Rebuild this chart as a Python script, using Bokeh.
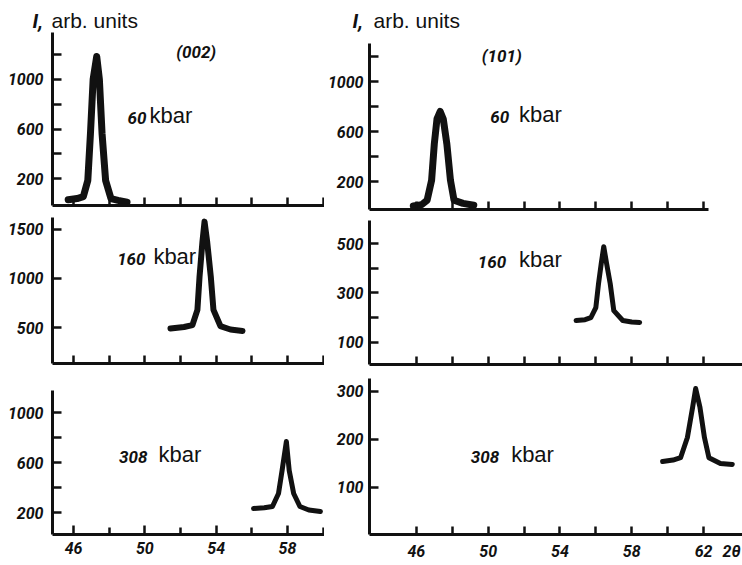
from bokeh.plotting import figure
from bokeh.layouts import column, row
from bokeh.models import FixedTicker, Label, Range1d
from bokeh.embed import file_html
from bokeh.resources import INLINE

# ---------------- data ----------------
# (002) reflection
tth_002_60 = [45.7, 46.2, 46.55, 46.8, 46.95, 47.1, 47.3, 47.45, 47.6, 47.8, 48.1, 48.5, 49.0]
int_002_60 = [30, 40, 55, 185, 565, 1000, 1185, 1000, 565, 185, 40, 25, 10]

tth_002_160 = [51.44, 52.2, 52.67, 52.95, 53.07, 53.23, 53.35, 53.5, 53.7, 53.85, 54.24, 54.8, 55.48]
int_002_160 = [490, 505, 525, 680, 1020, 1370, 1580, 1370, 1020, 680, 515, 480, 465]

tth_002_308 = [56.1, 56.7, 57.16, 57.5, 57.7, 57.94, 58.1, 58.35, 58.7, 59.2, 59.85]
int_002_308 = [232, 238, 248, 352, 536, 768, 536, 352, 248, 220, 208]

# (101) reflection
tth_101_60 = [45.83, 46.3, 46.6, 46.85, 47.0, 47.15, 47.33, 47.5, 47.7, 47.9, 48.1, 48.6, 49.2]
int_101_60 = [5, 15, 50, 210, 500, 700, 760, 700, 500, 210, 50, 25, 10]

tth_101_160 = [54.9, 55.4, 55.72, 56.0, 56.15, 56.3, 56.44, 56.6, 56.8, 57.0, 57.5, 58.0, 58.44]
int_101_160 = [189, 192, 200, 241, 338, 419, 487, 419, 338, 229, 189, 183, 181]

tth_101_308 = [59.72, 60.3, 60.72, 61.1, 61.39, 61.56, 61.8, 62.05, 62.3, 62.94, 63.6]
int_101_308 = [154, 157, 162, 204, 267, 306, 267, 204, 162, 150, 148]

# ticks
x_major = [46, 50, 54, 58, 62]
x_minor = [48, 52, 56, 60]
x_all = [46, 48, 50, 52, 54, 56, 58, 60, 62]
x_title_pos = 63.56
y_tl_major, y_tl_minor = [200, 600, 1000], [400, 800, 1200]
y_ml_major, y_ml_minor = [500, 1000, 1500], []
y_bl_major, y_bl_minor = [200, 600, 1000], [400, 800]
y_tr_major, y_tr_minor = [200, 600, 1000], [400, 800, 1200]
y_mr_major, y_mr_minor = [100, 300, 500], [200, 400]
y_br_major, y_br_minor = [100, 200, 300], []

# text
pressures = ["60", "160", "308"]
unit_text = "kbar"
reflections = ["(002)", "(101)"]
ylabel_sym = "I,"
ylabel_txt = "arb. units"
xlabel_txt = "2θ"

# ---------------- styling ----------------
BOLD_FONT = "Roboto"
REG_FONT = "Liberation Sans"
INK = "#111111"

LEFT_W, RIGHT_W = 324, 418
LEFT_X = (44.82, 60.08)
RIGHT_X = (43.39, 64.17)


def style_common(p):
    p.grid.visible = False
    p.outline_line_color = None
    p.background_fill_color = "white"
    p.border_fill_color = "white"


def panel(width, height, xr, yr, bl, bt, bb, ymaj, ymin, xmode, ystandoff, yfont, xbounds=None):
    p = figure(width=width, height=height, x_range=Range1d(*xr), y_range=Range1d(*yr),
               output_backend="svg", toolbar_location=None,
               min_border_left=bl, min_border_right=0,
               min_border_top=bt, min_border_bottom=bb)
    style_common(p)

    xa = p.xaxis[0]
    xa.axis_line_width = 3
    xa.axis_line_color = INK
    xa.major_tick_line_width = 2.5
    xa.minor_tick_line_width = 2.5
    xa.major_tick_line_color = INK
    xa.minor_tick_line_color = INK
    xa.major_tick_out = 0
    xa.minor_tick_out = 0
    xa.major_label_text_font = BOLD_FONT
    xa.major_label_text_font_style = "bold italic"
    xa.major_label_text_font_size = "16px"
    xa.major_label_text_color = INK
    if xbounds is not None:
        xa.bounds = xbounds
    if xmode == "none":
        xa.ticker = FixedTicker(ticks=[], minor_ticks=x_all)
        xa.minor_tick_in = 8
        xa.major_label_standoff = 0
    elif xmode == "labels":
        xa.ticker = FixedTicker(ticks=x_major, minor_ticks=x_minor)
        xa.major_tick_in = 9
        xa.minor_tick_in = 7
        xa.major_label_standoff = 7
    else:  # tick labels plus the 2θ title at the end of the axis
        xa.ticker = FixedTicker(ticks=x_major + [x_title_pos], minor_ticks=x_all)
        xa.major_tick_in = 0
        xa.minor_tick_in = 8
        xa.major_label_standoff = 7
        xa.major_label_overrides = {x_title_pos: xlabel_txt}

    ya = p.yaxis[0]
    ya.ticker = FixedTicker(ticks=ymaj, minor_ticks=ymin)
    ya.axis_line_width = 3
    ya.axis_line_color = INK
    ya.major_tick_line_width = 2.5
    ya.minor_tick_line_width = 2.5
    ya.major_tick_line_color = INK
    ya.minor_tick_line_color = INK
    ya.major_tick_in = 9
    ya.major_tick_out = 0
    ya.minor_tick_in = 9
    ya.minor_tick_out = 0
    ya.major_label_text_font = BOLD_FONT
    ya.major_label_text_font_style = "bold italic"
    ya.major_label_text_font_size = yfont
    ya.major_label_text_color = INK
    ya.major_label_standoff = ystandoff
    return p


def curve(p, xs, ys, lw):
    p.line(xs, ys, line_width=lw, line_color=INK, line_join="round", line_cap="round")


def bold_label(p, x, y, text, size, align="left"):
    p.add_layout(Label(x=x, y=y, text=text, text_font=BOLD_FONT, text_font_style="bold italic",
                       text_font_size=size, text_color=INK, text_baseline="middle",
                       text_align=align))


def reg_label(p, x, y, text, size):
    p.add_layout(Label(x=x, y=y, text=text, text_font=REG_FONT, text_font_size=size,
                       text_color=INK, text_baseline="middle", text_align="left"))


def pressure_label(p, x_num_right, y_num, x_unit, y_unit, text):
    bold_label(p, x_num_right, y_num, text, "17px", align="right")
    reg_label(p, x_unit, y_unit, unit_text, "22px")


# ---------------- header strip with the intensity labels ----------------
head = figure(width=LEFT_W + RIGHT_W, height=32, x_range=Range1d(0, LEFT_W + RIGHT_W),
              y_range=Range1d(32, 0), output_backend="svg", toolbar_location=None,
              x_axis_location=None, y_axis_location=None, min_border=0)
style_common(head)
bold_label(head, 32, 20.5, ylabel_sym, "20px")
reg_label(head, 51, 20.0, ylabel_txt, "21px")
bold_label(head, 352, 20.8, ylabel_sym, "20px")
reg_label(head, 373, 20.3, ylabel_txt, "21px")

# ---------------- left column: (002) ----------------
tl = panel(LEFT_W, 181, LEFT_X, (-16, 1378), 52, 0, 8, y_tl_major, y_tl_minor, "none", 9, "16px")
curve(tl, tth_002_60, int_002_60, 7)
bold_label(tl, 52.88, 1217, reflections[0], "17px", align="center")
pressure_label(tl, 50.09, 687, 50.26, 706, pressures[0])

ml = panel(LEFT_W, 159, LEFT_X, (133, 1622), 52, 4, 9, y_ml_major, y_ml_minor, "none", 9, "16px")
curve(ml, tth_002_160, int_002_160, 6)
pressure_label(ml, 50.04, 1196, 50.48, 1220, pressures[1])

bl = panel(LEFT_W, 193, LEFT_X, (24, 1176), 52, 18, 31, y_bl_major, y_bl_minor, "labels", 9, "16px")
curve(bl, tth_002_308, int_002_308, 5)
pressure_label(bl, 50.15, 642, 50.77, 661, pressures[2])

# ---------------- right column: (101) ----------------
tr = panel(RIGHT_W, 181, RIGHT_X, (-24, 1304), 44, 11, 4, y_tr_major, y_tr_minor, "none", 6, "16px",
           xbounds=(43.39, 62.3))
curve(tr, tth_101_60, int_101_60, 7)
bold_label(tr, 50.76, 1208, reflections[1], "17px", align="center")
pressure_label(tr, 51.17, 714, 51.72, 733, pressures[0])

mr = panel(RIGHT_W, 159, RIGHT_X, (11, 593), 44, 7, 8, y_mr_major, y_mr_minor, "none", 6, "16px")
curve(mr, tth_101_160, int_101_160, 5)
pressure_label(mr, 51.0, 424, 51.72, 434, pressures[1])

br = panel(RIGHT_W, 193, RIGHT_X, (2, 327), 44, 6, 31, y_br_major, y_br_minor, "title", 6, "16px")
curve(br, tth_101_308, int_101_308, 5)
pressure_label(br, 50.61, 163, 51.28, 168, pressures[2])

layout = column(head, row(column(tl, ml, bl), column(tr, mr, br)))

open("out.html", "w").write(file_html(layout, INLINE))
